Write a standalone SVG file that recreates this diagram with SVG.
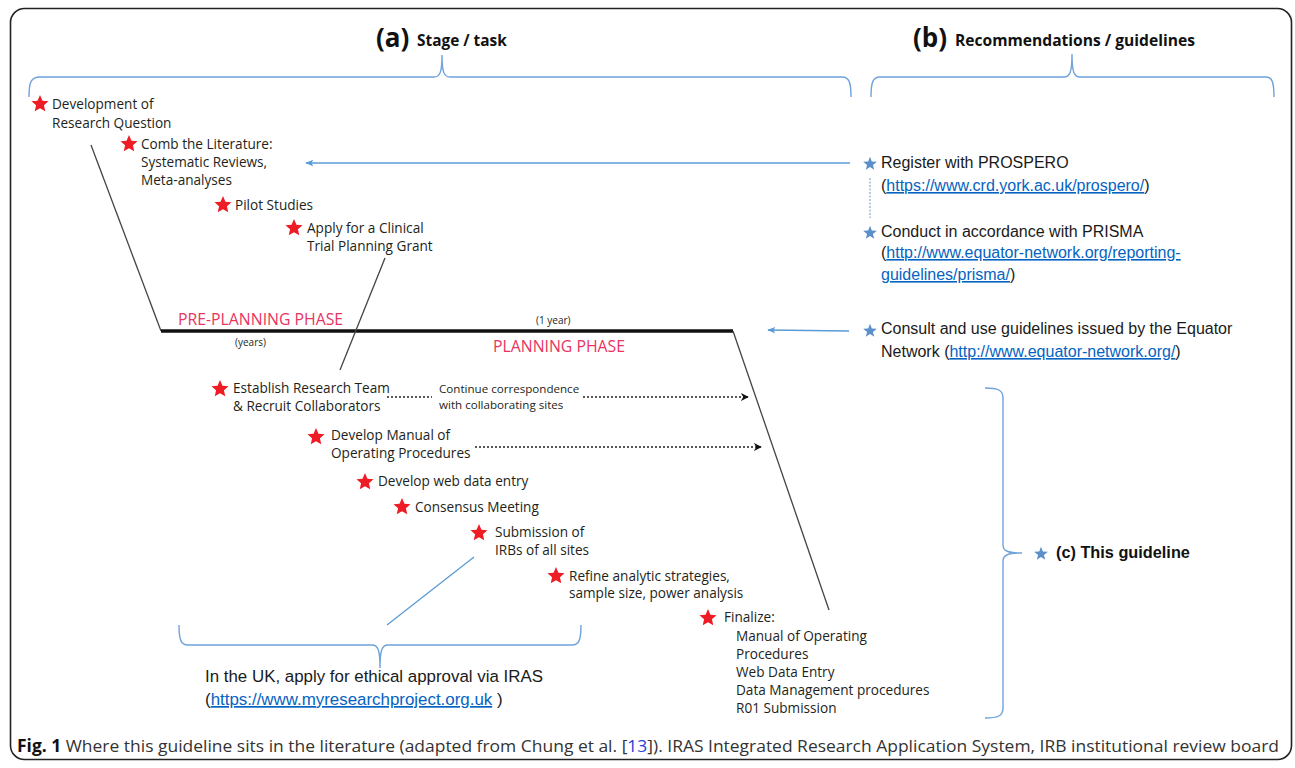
<svg xmlns="http://www.w3.org/2000/svg" width="1295" height="768" viewBox="0 0 1295 768">
<defs>
<style>
.st{font-family:"Open Sans","Noto Sans",sans-serif;font-size:13.6px;fill:#231f20}
.sm{font-family:"Open Sans","Noto Sans",sans-serif;font-size:10px;fill:#231f20}
.cc{font-family:"Open Sans","Noto Sans",sans-serif;font-size:11.6px;fill:#231f20}
.ph{font-family:"Open Sans","Noto Sans",sans-serif;font-size:15.8px;fill:#e9345f}
.rc{font-family:"Liberation Sans",Arial,sans-serif;font-size:16px;fill:#1a1a1a}
.uk{font-family:"Liberation Sans",Arial,sans-serif;font-size:16.9px;fill:#1a1a1a}
.lk{fill:#0563c1;text-decoration:underline}
.hd{font-family:"Open Sans","Noto Sans",sans-serif;font-weight:bold;fill:#111}
.brace{fill:none;stroke:#6fa3da;stroke-width:1.4}
.blk{stroke:#444;stroke-width:1.3;fill:none}
.dot{stroke:#222;stroke-width:1.6;stroke-dasharray:2 2;fill:none}
.blu{stroke:#5b9bd5;stroke-width:1.3;fill:none}
</style>
<polygon id="star" points="0,-8 2,-2.75 7.61,-2.47 3.23,1.05 4.7,6.47 0,3.4 -4.7,6.47 -3.23,1.05 -7.61,-2.47 -2,-2.75"/>
<polygon id="rstar" transform="scale(1.12)" points="0,-8 2.2,-3 7.61,-2.47 3.5,1.2 4.7,6.47 0,3.8 -4.7,6.47 -3.5,1.2 -7.61,-2.47 -2.2,-3"/>
<marker id="ab" viewBox="0 0 10 10" refX="9" refY="5" markerWidth="8" markerHeight="8" orient="auto" markerUnits="userSpaceOnUse">
<path d="M0,0 L10,5 L0,10 L3,5 Z" fill="#111"/>
</marker>
<marker id="au" viewBox="0 0 10 10" refX="9" refY="5" markerWidth="9" markerHeight="8" orient="auto" markerUnits="userSpaceOnUse">
<path d="M0,1 L10,5 L0,9 L2,5 Z" fill="#5b9bd5"/>
</marker>
</defs>
<rect x="10.5" y="8.5" width="1281" height="751" rx="14" fill="#fff" stroke="#222" stroke-width="1.6"/>

<g id="headers">
<text x="376" y="47" class="hd" font-size="26">(a)</text>
<text x="417" y="46" class="hd" font-size="15.4">Stage / task</text>
<text x="913" y="47" class="hd" font-size="26">(b)</text>
<text x="955" y="46" class="hd" font-size="15.6">Recommendations / guidelines</text>
</g>

<g id="braces">
<path class="brace" d="M29,97 C29,82 31,77 40,77 L434,77 C440,77 442,72 442,55 C442,72 444,77 450,77 L842,77 C849,77 851,82 851,97"/>
<path class="brace" d="M871,97 C871,82 873,77 880,77 L1064,77 C1070,77 1072,72 1072,54 C1072,72 1074,77 1080,77 L1266,77 C1272,77 1274,82 1274,97"/>
<path class="brace" d="M179,625 C179,640 181,645 188,645 L372,645 C378,645 380,650 380,668 C380,650 382,645 388,645 L572,645 C579,645 581,640 581,625"/>
<path class="brace" d="M985,388 C998,388 1003,390 1003,398 L1003,545 C1003,551 1008,553 1022,553 C1008,553 1003,555 1003,561 L1003,708 C1003,716 998,718 985,718"/>
</g>

<g id="connectors">
<path class="blk" d="M91,145 L161,331"/>
<path d="M161,331 L733,331" stroke="#111" stroke-width="3.5"/>
<path class="blk" d="M733,331 L829,610"/>
<path class="blk" d="M385,258 L340,370"/>
<path class="dot" d="M387,397 L432,397"/>
<path class="dot" d="M583,397 L748,397" marker-end="url(#ab)"/>
<path class="dot" d="M475,447 L761,447" marker-end="url(#ab)"/>
<path class="blu" d="M474,557 L387,625"/>
<path class="blu" d="M850,163 L306,163" marker-end="url(#au)"/>
<path class="blu" d="M849,331 L768,330" marker-end="url(#au)"/>
<path d="M870,178 L870,218" stroke="#5b9bd5" stroke-width="1" stroke-dasharray="2 1.5"/>
</g>

<g id="phases">
<text x="178" y="325" class="ph">PRE-PLANNING PHASE</text>
<text x="235" y="346" class="sm">(years)</text>
<text x="536" y="324" class="sm">(1 year)</text>
<text x="493" y="352" class="ph">PLANNING PHASE</text>
</g>

<g id="n-dev" fill="#ee1c25">
<use href="#rstar" x="40" y="104"/>
<text class="st" x="52" y="109">Development of</text>
<text class="st" x="52" y="128">Research Question</text>
</g>
<g id="n-comb" fill="#ee1c25">
<use href="#rstar" x="129" y="144"/>
<text class="st" x="141" y="149">Comb the Literature:</text>
<text class="st" x="141" y="167">Systematic Reviews,</text>
<text class="st" x="141" y="185">Meta-analyses</text>
</g>
<g id="n-pilot" fill="#ee1c25">
<use href="#rstar" x="223" y="205"/>
<text class="st" x="235" y="210">Pilot Studies</text>
</g>
<g id="n-grant" fill="#ee1c25">
<use href="#rstar" x="294" y="228"/>
<text class="st" x="307" y="233">Apply for a Clinical</text>
<text class="st" x="307" y="251">Trial Planning Grant</text>
</g>
<g id="n-team" fill="#ee1c25">
<use href="#rstar" x="220" y="389"/>
<text class="st" x="233" y="393">Establish Research Team</text>
<text class="st" x="233" y="411">&amp; Recruit Collaborators</text>
<text class="cc" x="439" y="393">Continue correspondence</text>
<text class="cc" x="439" y="409">with collaborating sites</text>
</g>
<g id="n-manual" fill="#ee1c25">
<use href="#rstar" x="316" y="437"/>
<text class="st" x="331" y="440">Develop Manual of</text>
<text class="st" x="331" y="458">Operating Procedures</text>
</g>
<g id="n-web" fill="#ee1c25">
<use href="#rstar" x="365" y="482"/>
<text class="st" x="378" y="486">Develop web data entry</text>
</g>
<g id="n-consensus" fill="#ee1c25">
<use href="#rstar" x="402" y="507"/>
<text class="st" x="415" y="512">Consensus Meeting</text>
</g>
<g id="n-irb" fill="#ee1c25">
<use href="#rstar" x="479" y="533"/>
<text class="st" x="495" y="537">Submission of</text>
<text class="st" x="495" y="555">IRBs of all sites</text>
</g>
<g id="n-refine" fill="#ee1c25">
<use href="#rstar" x="556" y="576"/>
<text class="st" x="569" y="581">Refine analytic strategies,</text>
<text class="st" x="569" y="598">sample size, power analysis</text>
</g>
<g id="n-final" fill="#ee1c25">
<use href="#rstar" x="708" y="618"/>
<text class="st" x="724" y="622">Finalize:</text>
<text class="st" x="736" y="641">Manual of  Operating</text>
<text class="st" x="736" y="659">Procedures</text>
<text class="st" x="736" y="677">Web Data Entry</text>
<text class="st" x="736" y="695">Data Management procedures</text>
<text class="st" x="736" y="713">R01 Submission</text>
</g>

<g id="n-iras">
<text class="uk" x="205" y="682">In the UK, apply for ethical approval via IRAS</text>
<text class="uk" x="205" y="705">(<tspan class="lk">https://www.myresearchproject.org.uk</tspan> )</text>
</g>

<g id="n-prospero" fill="#5b8fc9">
<use href="#star" x="870" y="164" transform="translate(870 164) scale(0.9) translate(-870 -164)"/>
<text class="rc" x="881" y="168">Register with PROSPERO</text>
<text class="rc" x="881" y="191">(<tspan class="lk">https://www.crd.york.ac.uk/prospero/</tspan>)</text>
</g>
<g id="n-prisma" fill="#5b8fc9">
<use href="#star" x="870" y="233" transform="translate(870 233) scale(0.9) translate(-870 -233)"/>
<text class="rc" x="881" y="237">Conduct in accordance with PRISMA</text>
<text class="rc" x="881" y="258">(<tspan class="lk">http://www.equator-network.org/reporting-</tspan></text>
<text class="rc" x="881" y="280"><tspan class="lk">guidelines/prisma/</tspan>)</text>
</g>
<g id="n-equator" fill="#5b8fc9">
<use href="#star" x="870" y="331" transform="translate(870 331) scale(0.9) translate(-870 -331)"/>
<text class="rc" x="881" y="334">Consult and use guidelines issued by the Equator</text>
<text class="rc" x="881" y="357">Network (<tspan class="lk">http://www.equator-network.org/</tspan>)</text>
</g>
<g id="n-this" fill="#5b8fc9">
<use href="#star" x="1041" y="554" transform="translate(1041 554) scale(0.9) translate(-1041 -554)"/>
<text x="1056" y="558" font-family="Liberation Sans, Arial, sans-serif" font-weight="bold" font-size="16.3" fill="#111">(c) This guideline</text>
</g>

<g id="caption">
<text x="17" y="752" font-family="Open Sans, Noto Sans, sans-serif" font-size="17" fill="#333" textLength="1262" lengthAdjust="spacingAndGlyphs"><tspan font-weight="bold" fill="#111">Fig. 1</tspan> Where this guideline sits in the literature (adapted from Chung et al. [<tspan fill="#1f3fd6">13</tspan>]). IRAS Integrated Research Application System, IRB institutional review board</text>
</g>
</svg>
